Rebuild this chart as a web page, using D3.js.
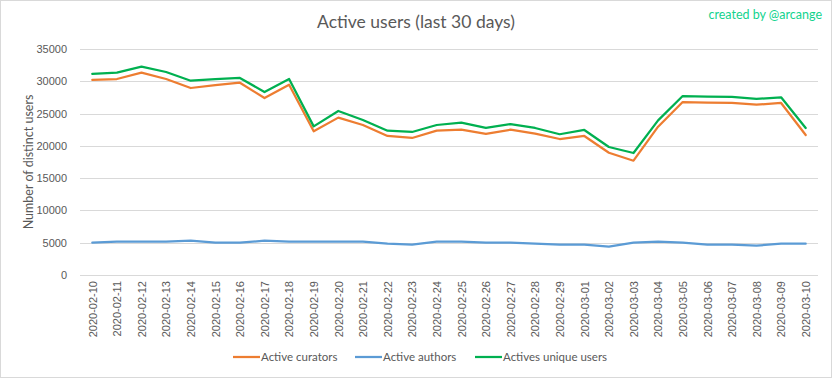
<!DOCTYPE html>
<html><head><meta charset="utf-8">
<script src="https://cdn.jsdelivr.net/npm/d3@7"></script>
<style>
html,body{margin:0;padding:0;background:#fff;}
svg{display:block;font-family:Lato, "Open Sans", sans-serif;}
</style></head>
<body>
<svg id="chart" width="833" height="379"></svg>
<script>
const dates = ["2020-02-10","2020-02-11","2020-02-12","2020-02-13","2020-02-14","2020-02-15","2020-02-16","2020-02-17","2020-02-18","2020-02-19","2020-02-20","2020-02-21","2020-02-22","2020-02-23","2020-02-24","2020-02-25","2020-02-26","2020-02-27","2020-02-28","2020-02-29","2020-03-01","2020-03-02","2020-03-03","2020-03-04","2020-03-05","2020-03-06","2020-03-07","2020-03-08","2020-03-09","2020-03-10"];
const curators = [30200,30350,31330,30350,28960,29420,29780,27410,29470,22250,24370,23230,21530,21220,22350,22500,21840,22500,21890,21060,21530,18940,17700,22970,26790,26690,26640,26380,26640,21680];
const authors = [5000,5160,5160,5160,5310,5000,5000,5310,5160,5160,5160,5160,4850,4700,5160,5160,5000,5000,4850,4700,4700,4380,5000,5160,5000,4700,4700,4540,4850,4850];
const uniques = [31150,31330,32260,31440,30090,30350,30510,28340,30350,23020,25400,24000,22350,22150,23230,23590,22770,23380,22770,21800,22460,19820,18890,23950,27720,27620,27570,27260,27520,22770];
const yTicks = [0,5000,10000,15000,20000,25000,30000,35000];
const seriesNames = ["Active curators","Active authors","Actives unique users"];
const seriesColors = ["#ED7D31","#5B9BD5","#00B050"];

const svg = d3.select("#chart");
const plot = {left:80, right:818, top:49, bottom:275};

svg.append("rect").attr("x",0.5).attr("y",0.5).attr("width",831).attr("height",377)
  .attr("fill","#fff").attr("stroke","#D9D9D9");

const x = d3.scalePoint().domain(dates).range([plot.left, plot.right]).padding(0.5);
const y = d3.scaleLinear().domain([0,35000]).range([plot.bottom, plot.top]);

// gridlines
svg.append("g").selectAll("line").data(yTicks).join("line")
  .attr("x1",plot.left).attr("x2",plot.right)
  .attr("y1",d=>Math.round(y(d))+0.5).attr("y2",d=>Math.round(y(d))+0.5)
  .attr("stroke","#D9D9D9").attr("stroke-width",1);

// y axis labels
const yAxis = d3.axisLeft(y).tickValues(yTicks).tickSize(0).tickPadding(0).tickFormat(d3.format("d"));
const yg = svg.append("g").attr("transform",`translate(${67},0)`).call(yAxis);
yg.select(".domain").remove();
yg.selectAll("text").attr("fill","#595959").style("font-size","11px");

// x axis labels
const xAxis = d3.axisBottom(x).tickSize(0).tickPadding(0);
const xg = svg.append("g").attr("transform",`translate(0,${plot.bottom})`).call(xAxis);
xg.select(".domain").remove();
xg.selectAll("text").attr("fill","#595959").style("font-size","11px")
  .attr("text-anchor","end").attr("dy","0.35em")
  .attr("transform","translate(0,6) rotate(-90)").attr("x",0).attr("y",0);

// lines
const line = d3.line().x((d,i)=>x(dates[i])).y(d=>y(d));
[curators, authors, uniques].forEach((s,k)=>{
  svg.append("path").datum(s).attr("d",line).attr("fill","none")
    .attr("stroke",seriesColors[k]).attr("stroke-width",2.25)
    .attr("stroke-linejoin","round").attr("stroke-linecap","round");
});

// title
svg.append("text").attr("x",416).attr("y",28).attr("text-anchor","middle")
  .attr("fill","#595959").style("font-size","17.5px").text("Active users (last 30 days)");

// watermark
svg.append("text").attr("x",822).attr("y",19).attr("text-anchor","end")
  .attr("fill","#12D38E").style("font-size","12.5px").text("created by @arcange");

// y title
svg.append("text").attr("transform","translate(33,162) rotate(-90)").attr("text-anchor","middle")
  .attr("fill","#595959").style("font-size","12.5px").text("Number of distinct users");

// legend
const legX = [233, 355, 475];
seriesNames.forEach((n,k)=>{
  const g = svg.append("g").attr("transform",`translate(${legX[k]},357)`);
  g.append("line").attr("x1",0).attr("x2",27).attr("y1",0).attr("y2",0)
    .attr("stroke",seriesColors[k]).attr("stroke-width",2.25);
  g.append("text").attr("x",28).attr("y",0).attr("dy","0.35em")
    .attr("fill","#595959").style("font-size","11.5px").text(n);
});
</script>
</body></html>
